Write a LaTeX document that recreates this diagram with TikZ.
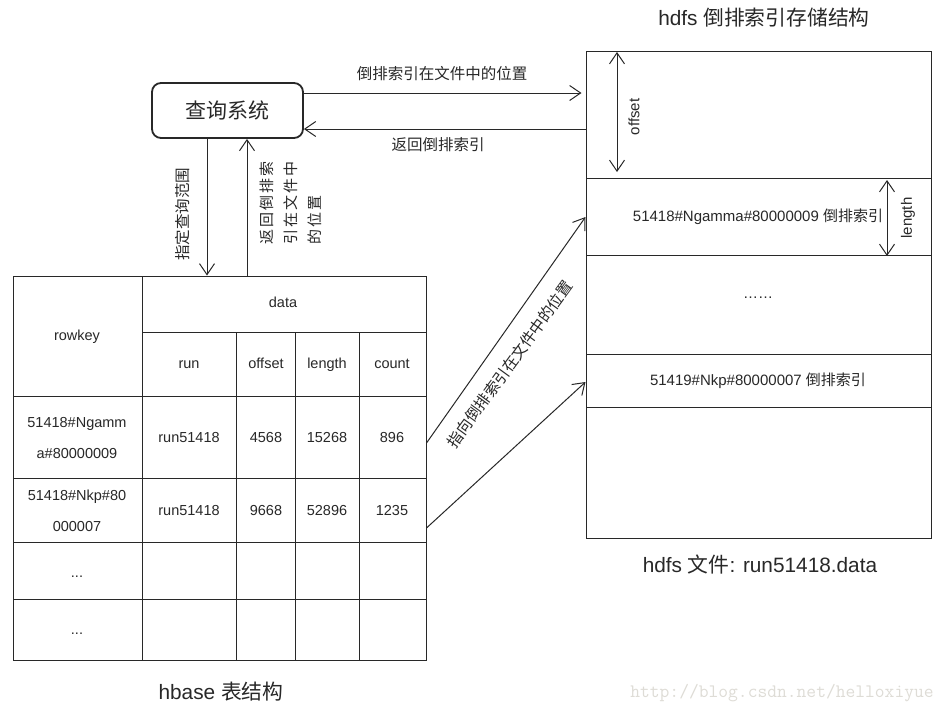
\documentclass[tikz,border=0pt]{standalone}
\usepackage{fontspec}
\setmainfont{Liberation Sans}
\newfontfamily\cjk{Noto Sans CJK SC}
\usetikzlibrary{arrows.meta}

\definecolor{ink}{RGB}{40,40,40}
\definecolor{wm}{RGB}{222,220,214}
\newcommand{\fs}[1]{\fontsize{#1}{#1}\selectfont}
\newcommand{\cgap}{\hspace{2.2pt}}

\begin{document}
\begin{tikzpicture}[x=1pt,y=-1pt,
  line/.style={draw=ink, line width=1pt},
  arr/.style={line, -{Straight Barb[length=11pt,width=15pt]}},
  darr/.style={line, {Straight Barb[length=11pt,width=15pt]}-{Straight Barb[length=11pt,width=15pt]}},
  lbl/.style={text=ink, font=\fs{15}, inner sep=0pt},
  clbl/.style={text=ink, font=\cjk\fs{15.5}, inner sep=0pt},
  cell/.style={text=ink, font=\fs{14.5}, inner sep=0pt, text height=10.4pt, text depth=3pt},
  capt/.style={text=ink, font=\fs{20.8}, inner sep=0pt},
]
\fill[white] (0,0) rectangle (948,713);
\useasboundingbox (0,0) rectangle (948,713);

% helper levels
\coordinate (y93) at (0,93);
\coordinate (y129) at (0,129);
\coordinate (y217) at (0,217);
\coordinate (y382) at (0,382);
\coordinate (y443) at (0,443);
\coordinate (y528) at (0,528);
\coordinate (x207) at (207,0);
\coordinate (x247) at (247,0);

% query system
\node[draw=ink, line width=1.8pt, rounded corners=9pt, minimum width=151pt,
      minimum height=55pt, inner sep=0pt, text=ink, font=\cjk\fs{21}]
  (qs) at (227.5,110.5) {查询系统};

% hdfs file
\node[line, minimum width=345pt, minimum height=487pt, inner sep=0pt] (file) at (758.5,294.5) {};
\draw[line] (586,178) -- (931,178);
\draw[line] (586,255) -- (931,255);
\draw[line] (586,354) -- (931,354);
\draw[line] (586,407) -- (931,407);

% hbase table
\node[line, minimum width=413pt, minimum height=384pt, inner sep=0pt] (tbl) at (219.5,468) {};
\draw[line] (142,276) -- (142,660);
\draw[line] (142,332) -- (426,332);
\draw[line] (236,332) -- (236,660);
\draw[line] (295,332) -- (295,660);
\draw[line] (359,332) -- (359,660);
\draw[line] (13,396) -- (426,396);
\draw[line] (13,478) -- (426,478);
\draw[line] (13,542) -- (426,542);
\draw[line] (13,599) -- (426,599);

\node[cell] (c-rk) at (77,337) {rowkey};
\node[cell] (c-data) at (283,304) {data};
\node[cell] (c-run) at (189,365) {run};
\node[cell] (c-off) at (266,365) {offset};
\node[cell] (c-len) at (327,365) {length};
\node[cell] (c-cnt) at (392,365) {count};
\node[cell] (r1a) at (77,423.5) {51418\#Ngamm};
\node[cell] (r1b) at (77,454.5) {a\#80000009};
\node[cell] (r1run) at (189,438.5) {run51418};
\node[cell] (r1off) at (266,438.5) {4568};
\node[cell] (r1len) at (327,438.5) {15268};
\node[cell] (r1cnt) at (392,438.5) {896};
\node[cell] (r2a) at (77,496.5) {51418\#Nkp\#80};
\node[cell] (r2b) at (77,527.5) {000007};
\node[cell] (r2run) at (189,511.5) {run51418};
\node[cell] (r2off) at (266,511.5) {9668};
\node[cell] (r2len) at (327,511.5) {52896};
\node[cell] (r2cnt) at (392,511.5) {1235};
\node[cell] (r3) at (77,574) {...};
\node[cell] (r4) at (77,631) {...};

% connectors
\draw[arr, shorten >=4pt] (qs.east |- y93) -- (file.west |- y93);
\draw[arr] (file.west |- y129) -- (qs.east |- y129);
\draw[arr] (qs.south -| x207) -- (tbl.north -| x207);
\draw[arr] (tbl.north -| x247) -- (qs.south -| x247);
\draw[arr] (tbl.east |- y443) -- (file.west |- y217);
\draw[arr] (tbl.east |- y528) -- (file.west |- y382);

% dimension arrows inside the file
\coordinate (offTop) at (617,52);
\coordinate (offBot) at (617,172);
\coordinate (lenTop) at (887,180);
\coordinate (lenBot) at (887,256);
\draw[darr] (offTop) -- (offBot);
\draw[darr] (lenTop) -- (lenBot);
\node[lbl, rotate=90] (offlbl) at (634,117) {offset};
\node[lbl, rotate=90] (lenlbl) at (908,218) {length};

% connector labels
\node[clbl] (l-pos) at (442,74) {倒排索引在文件中的位置};
\node[clbl] (l-ret) at (438,145) {返回倒排索引};
\node[clbl, rotate=90] (l-range) at (183,214) {指定查询范围};
\node[text=ink, inner sep=0pt, rotate=90, align=left, font=\cjk\fontsize{15}{24}\selectfont]
  (l-back) at (291,203)
  {返\cgap 回\cgap 倒\cgap 排\cgap 索\\引\cgap 在\cgap 文\cgap 件\cgap 中\\的\cgap 位\cgap 置};
\node[clbl, rotate=54] (l-point) at (510,364) {指向倒排索引在文件中的位置};

% file contents
\node[lbl] (e1) at (758,217) {51418\#Ngamma\#80000009 {\cjk 倒排索引}};
\node[lbl] (e2) at (758,298) {……};
\node[lbl] (e3) at (758,381) {51419\#Nkp\#80000007 {\cjk 倒排索引}};

% captions
\node[text=ink, font=\fs{20.8}, inner sep=0pt] (t-hdfs) at (764,18) {hdfs {\cjk 倒排索引存储结构}};
\node[capt] (t-file) at (760,565) {hdfs {\cjk 文件}: run51418.data};
\node[capt] (t-hbase) at (221,692) {hbase {\cjk 表结构}};

\node[font=\ttfamily\fs{19}, text=wm, inner sep=0pt] (wmark) at (782,693) {http://blog.csdn.net/helloxiyue};
\end{tikzpicture}
\end{document}
